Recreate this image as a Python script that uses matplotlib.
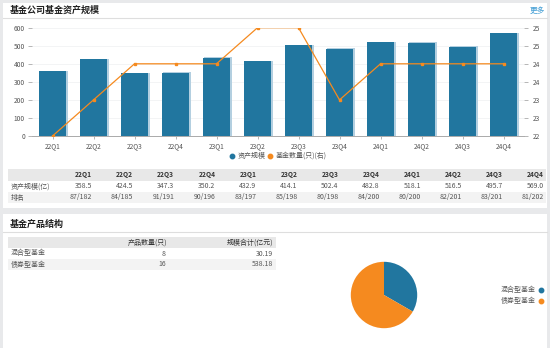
import numpy as np
import matplotlib
matplotlib.use('Agg')
import matplotlib.pyplot as plt
from matplotlib.patches import Rectangle

plt.rcParams['font.family'] = ['Noto Sans CJK SC', 'DejaVu Sans']

# ---- data ----
quarters = ['22Q1', '22Q2', '22Q3', '22Q4', '23Q1', '23Q2',
            '23Q3', '23Q4', '24Q1', '24Q2', '24Q3', '24Q4']
asset_scale = [358.5, 424.5, 347.3, 350.2, 432.9, 414.1,
               502.4, 482.8, 518.1, 516.5, 495.7, 569.0]
fund_count = [22, 23, 24, 24, 24, 25, 25, 23, 24, 24, 24, 24]
rank_labels = ['87/182', '84/185', '91/191', '90/196', '83/197', '85/198',
               '80/198', '84/200', '80/200', '82/201', '83/201', '81/202']

left_ticks = [0, 100, 200, 300, 400, 500, 600]
right_ticks = [22, 22.5, 23, 23.5, 24, 24.5, 25]
right_tick_labels = ['22', '23', '23', '24', '24', '25', '25']

product_types = ['混合型基金', '债券型基金']
product_counts = [8, 16]
product_scale = ['30.19', '538.18']

BLUE = '#21769f'
ORANGE = '#f58a1f'
BG = '#e8e9eb'
GRID = '#f1f2f4'
TXT = '#555555'

W, H = 550, 348
fig = plt.figure(figsize=(W / 100, H / 100), dpi=100)
fig.patch.set_facecolor(BG)


def box(x0, y0, x1, y1):
    return [x0 / W, 1 - y1 / H, (x1 - x0) / W, (y1 - y0) / H]


# canvas in pixel coordinates for panels, titles and tables
cv = fig.add_axes([0, 0, 1, 1], zorder=0)
cv.set_xlim(0, W)
cv.set_ylim(H, 0)
cv.axis('off')

# panels
cv.add_patch(Rectangle((3, 3), 544, 205, facecolor='white', edgecolor='none'))
cv.add_patch(Rectangle((3, 214), 544, 140, facecolor='white', edgecolor='none'))
cv.plot([3, 547], [18, 18], color='#dedede', lw=0.8)
cv.plot([3, 547], [232, 232], color='#dedede', lw=0.8)
cv.text(10, 10.5, '基金公司基金资产规模', fontsize=6.5, fontweight='bold',
        color='#222222', va='center', ha='left')
cv.text(545, 10.5, '更多', fontsize=5.5, color='#3d9bd3', va='center', ha='right')
cv.text(10, 224, '基金产品结构', fontsize=6.5, fontweight='bold',
        color='#222222', va='center', ha='left')

# legend of the bar/line chart
cv.plot([232], [155.5], 'o', color=BLUE, ms=3.2)
cv.text(237.5, 155.5, '资产规模', fontsize=5, color=TXT, va='center')
cv.plot([270], [155.5], 'o', color=ORANGE, ms=3.2)
cv.text(275.5, 155.5, '基金数量(只)(右)', fontsize=5, color=TXT, va='center')

# quarterly table
cv.add_patch(Rectangle((8, 169), 538, 12, facecolor='#e8e8e8', edgecolor='none'))
cv.add_patch(Rectangle((8, 192), 538, 11, facecolor='#f3f3f3', edgecolor='none'))
cv.text(11, 186.5, '资产规模(亿)', fontsize=5, color=TXT, va='center')
cv.text(11, 197.5, '排名', fontsize=5, color=TXT, va='center')
for i, q in enumerate(quarters):
    xr = 92 + i * 41.1
    cv.text(xr, 175, q, fontsize=4.8, fontweight='bold', color='#333333',
            ha='right', va='center')
    cv.text(xr, 186.5, f'{asset_scale[i]:.1f}', fontsize=5, color=TXT,
            ha='right', va='center')
    cv.text(xr, 197.5, rank_labels[i], fontsize=5, color=TXT,
            ha='right', va='center')

# product table
cv.add_patch(Rectangle((8, 237), 268, 11, facecolor='#e8e8e8', edgecolor='none'))
cv.add_patch(Rectangle((8, 259), 268, 11, facecolor='#f3f3f3', edgecolor='none'))
cv.text(167, 242.5, '产品数量(只)', fontsize=5, color='#333333', ha='right', va='center')
cv.text(273, 242.5, '规模合计(亿元)', fontsize=5, color='#333333', ha='right', va='center')
for i, name in enumerate(product_types):
    yc = 253.5 + i * 11
    cv.text(11, yc, name, fontsize=5, color=TXT, va='center')
    cv.text(166, yc, str(product_counts[i]), fontsize=5, color=TXT, ha='right', va='center')
    cv.text(273, yc, product_scale[i], fontsize=5, color=TXT, ha='right', va='center')

# pie legend
for i, (name, col) in enumerate(zip(product_types, [BLUE, ORANGE])):
    yc = 290 + i * 11
    cv.text(536, yc, name, fontsize=5, color=TXT, ha='right', va='center')
    cv.plot([541], [yc], 'o', color=col, ms=3.2)

# ---- bar + line chart ----
x = np.arange(len(quarters))
ax = fig.add_axes(box(32, 27.7, 524, 136), zorder=2)
ax.set_facecolor('none')
ax.bar(x + 0.04, np.array(asset_scale) + 3, width=0.68, color='#b3cfe0', zorder=1)
ax.bar(x, asset_scale, width=0.68, color=BLUE, zorder=2)
ax.set_xlim(-0.5, len(quarters) - 0.5)
ax.set_ylim(0, 600)
ax.set_yticks(left_ticks)
ax.set_xticks(x)
ax.set_xticklabels(quarters)
ax.yaxis.grid(True, color=GRID, lw=0.6, zorder=0)
ax.set_axisbelow(True)
for s in ['top', 'right', 'left']:
    ax.spines[s].set_visible(False)
ax.spines['bottom'].set_color('#aaaaaa')
ax.spines['bottom'].set_linewidth(0.7)
ax.tick_params(axis='x', labelsize=4.8, colors=TXT, length=2.5, width=0.6,
               color='#aaaaaa', pad=2)
ax.tick_params(axis='y', labelsize=4.8, colors=TXT, length=3, width=0.6,
               color='#aaaaaa', pad=2)

ax2 = ax.twinx()
ax2.plot(x, fund_count, color=ORANGE, lw=0.9, marker='s', ms=2, zorder=3)
ax2.set_ylim(22, 25)
ax2.set_yticks(right_ticks)
ax2.set_yticklabels(right_tick_labels)
for s in ['top', 'right', 'left', 'bottom']:
    ax2.spines[s].set_visible(False)
ax2.tick_params(axis='y', labelsize=4.8, colors=TXT, length=3, width=0.6,
                color='#aaaaaa', pad=3)

# ---- pie ----
r = 41.5
pax = fig.add_axes(box(384 - r, 295 - r, 384 + r, 295 + r), zorder=2)
pax.pie(product_counts, colors=[BLUE, ORANGE], startangle=90, counterclock=False,
        wedgeprops={'linewidth': 0})
pax.set_aspect('equal')
pax.axis('off')

fig.savefig('out.png', dpi=100, facecolor=BG)
